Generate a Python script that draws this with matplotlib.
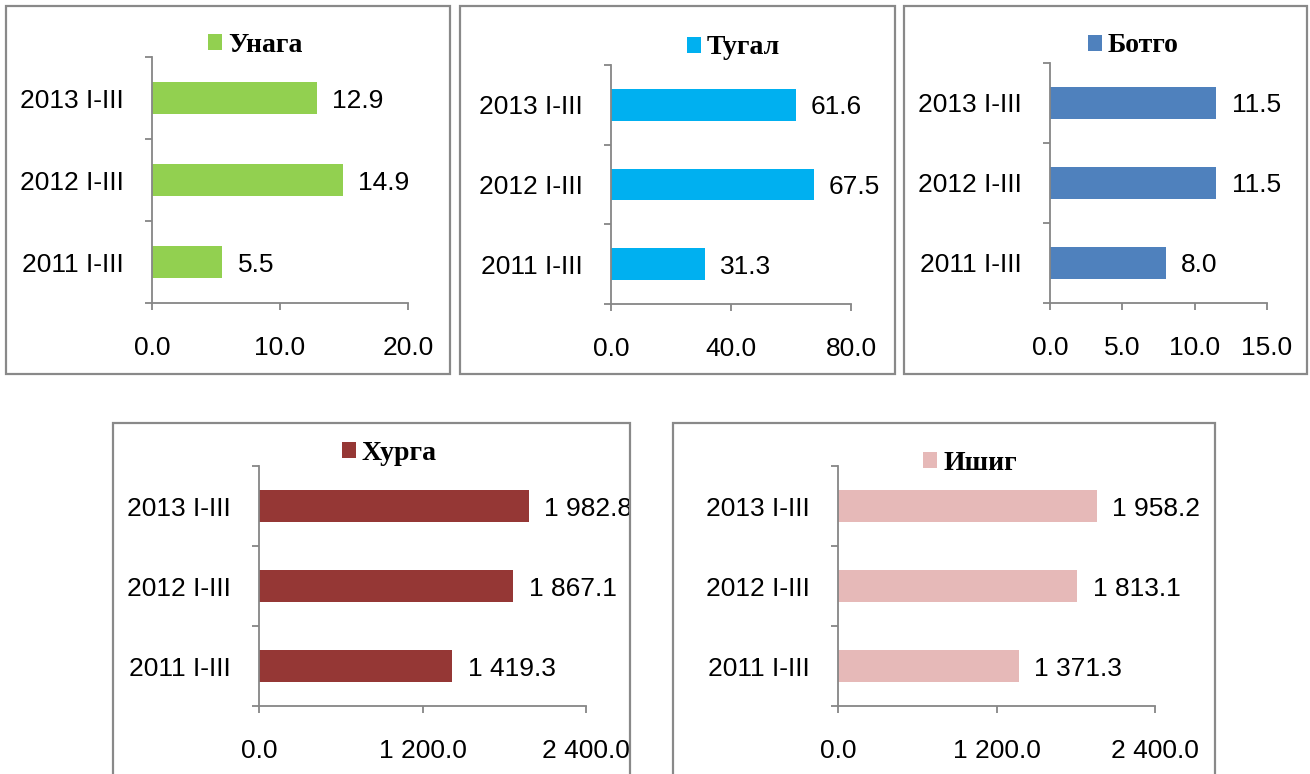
import matplotlib
matplotlib.use("Agg")
import matplotlib.pyplot as plt
from matplotlib.patches import Rectangle

# data
periods = ["2011 I-III", "2012 I-III", "2013 I-III"]
unaga = [5.5, 14.9, 12.9]
tugal = [31.3, 67.5, 61.6]
botgo = [8.0, 11.5, 11.5]
khurga = [1419.3, 1867.1, 1982.8]
ishig = [1371.3, 1813.1, 1958.2]

W, H = 1310, 774
plt.rcParams['font.family'] = ['Liberation Sans', 'DejaVu Sans']
FS = 19
GRAY = '#868686'

fig = plt.figure(figsize=(W / 100, H / 100), dpi=100)


def fmt(v):
    return f"{v:,.1f}".replace(",", " ")


def frame(x0, y0, x1, y1):
    fig.patches.append(Rectangle((x0 / W, 1 - y1 / H), (x1 - x0) / W, (y1 - y0) / H,
                                 transform=fig.transFigure, fill=False,
                                 edgecolor='#898989', lw=1.6))


def panel(vals, name, color, xmax, xticks, box, leg):
    x0, x1, yt, yb = box
    ax = fig.add_axes([x0 / W, 1 - yb / H, (x1 - x0) / W, (yb - yt) / H])
    bars = ax.barh(range(len(periods)), vals, height=0.4, color=color, label=name)
    ax.set_xlim(0, xmax)
    ax.set_ylim(-0.5, 2.5)
    for s in ['top', 'right']:
        ax.spines[s].set_visible(False)
    for s in ['left', 'bottom']:
        ax.spines[s].set_color(GRAY)
        ax.spines[s].set_linewidth(1.3)
    ax.set_xticks(xticks)
    ax.set_xticklabels([fmt(t) for t in xticks], fontsize=FS)
    ax.set_yticks([-0.5, 0.5, 1.5, 2.5])
    ax.set_yticklabels([])
    ax.set_yticks([0, 1, 2], minor=True)
    ax.set_yticklabels(periods, minor=True, fontsize=FS)
    ax.tick_params(axis='x', length=5, width=1.3, color=GRAY, pad=19)
    ax.tick_params(axis='y', which='major', length=5, width=1.3, color=GRAY)
    ax.tick_params(axis='y', which='minor', length=0, pad=20)
    for b, v in zip(bars, vals):
        ax.annotate(fmt(v), (v, b.get_y() + b.get_height() / 2), xytext=(11, 0),
                    textcoords='offset points', ha='left', va='center_baseline',
                    fontsize=FS)
    ax.legend(loc='center left', bbox_to_anchor=(leg[0] / W, 1 - leg[1] / H),
              bbox_transform=fig.transFigure, frameon=False, borderpad=0,
              borderaxespad=0, handlelength=0.5, handleheight=0.5,
              handletextpad=0.22,
              prop=dict(family='Liberation Serif', weight='bold', size=20))
    return ax


frame(6, 6, 450, 374)
frame(460, 6, 895, 374)
frame(904, 6, 1307, 374)
frame(113, 423, 630, 800)
frame(673, 423, 1215, 800)

panel(unaga, "Унага", '#92D050', 20, [0, 10, 20], (152, 408, 57, 303), (208, 45))
panel(tugal, "Тугал", '#00B0F0', 80, [0, 40, 80], (611, 851, 65, 304), (687, 48))
panel(botgo, "Ботго", '#4F81BD', 15, [0, 5, 10, 15], (1050, 1267, 63, 303), (1088, 46))
panel(khurga, "Хурга", '#953735', 2400, [0, 1200, 2400], (259, 586, 466, 706), (342, 453))
panel(ishig, "Ишиг", '#E6B9B8', 2400, [0, 1200, 2400], (838, 1155, 466, 706), (923, 463))

fig.savefig("out.png", dpi=100)
